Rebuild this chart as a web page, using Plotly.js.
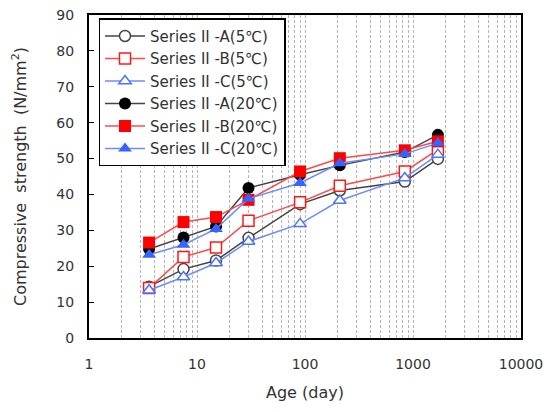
<!DOCTYPE html>
<html>
<head>
<meta charset="utf-8">
<script src="https://cdn.plot.ly/plotly-3.0.1.min.js"></script>
<style>html,body{margin:0;padding:0;background:#fff;}#chart{width:553px;height:412px;}</style>
</head>
<body>
<div id="chart"></div>
<script>
const ageDays = [3.6, 7.5, 15, 30, 90, 210, 840, 1700];
const seriesNames = ["Series II -A(5℃)", "Series II -B(5℃)", "Series II -C(5℃)", "Series II -A(20℃)", "Series II -B(20℃)", "Series II -C(20℃)"];
const a5  = [14.3, 19.2, 21.6, 27.9, 37.3, 41.1, 43.6, 49.9];
const b5  = [13.9, 22.6, 25.2, 32.7, 37.8, 42.4, 46.4, 52.5];
const c5  = [13.3, 17.0, 20.9, 26.9, 31.8, 38.3, 44.6, 51.1];
const a20 = [24.8, 28.0, 31.1, 41.8, 45.5, 48.1, 51.8, 56.6];
const b20 = [26.6, 32.3, 33.7, 38.5, 46.4, 50.1, 52.3, 54.8];
const c20 = [23.2, 26.0, 30.4, 38.8, 43.2, 48.7, 51.3, 54.3];
const xTickVals = [1,2,3,4,5,6,7,8,9,10,20,30,40,50,60,70,80,90,100,200,300,400,500,600,700,800,900,1000,2000,3000,4000,5000,6000,7000,8000,9000,10000];
const xTickText = xTickVals.map(v => [1,10,100,1000,10000].includes(v) ? String(v) : "");
const yTickVals = [0,10,20,30,40,50,60,70,80,90];

const FONT = '"DejaVu Sans", "Noto Sans CJK KR", sans-serif';
const styles = [
  {line:'#444444', mk:{symbol:'circle-open', color:'#444444'}},
  {line:'#ff4a4a', mk:{symbol:'square-open', color:'#ff1a1a'}},
  {line:'#6b8dff', mk:{symbol:'triangle-up-open', color:'#4a74ff'}},
  {line:'#444444', mk:{symbol:'circle', color:'#000000'}},
  {line:'#ff4a4a', mk:{symbol:'square', color:'#ff0000'}},
  {line:'#6b8dff', mk:{symbol:'triangle-up', color:'#3366ff'}}
];
const vals = [a5, b5, c5, a20, b20, c20];
const traces = vals.map((y, i) => {
  const s = styles[i];
  const open = s.mk.symbol.indexOf('open') >= 0;
  return {
    x: ageDays, y: y, name: seriesNames[i], type: 'scatter', mode: 'lines+markers',
    line: {color: s.line, width: 1.5},
    marker: open
      ? {symbol: s.mk.symbol.replace('-open',''), size: 11, color: '#ffffff', line: {color: s.mk.color, width: 1.5}}
      : {symbol: s.mk.symbol, size: 12, color: s.mk.color, line: {width: 0}}
  };
});

const layout = {
  width: 553, height: 412,
  margin: {l: 89, r: 32, t: 15, b: 74},
  paper_bgcolor: '#ffffff', plot_bgcolor: '#ffffff',
  font: {family: FONT, size: 14, color: '#222222'},
  showlegend: true,
  legend: {x: 0.022, y: 0.99, xanchor: 'left', yanchor: 'top', bgcolor: '#ffffff',
           bordercolor: '#000000', borderwidth: 1.5, font: {family: FONT, size: 15, color: '#333333'},
           tracegroupgap: 0, itemwidth: 40},
  xaxis: {type: 'log', range: [0, 4], tickvals: xTickVals, ticktext: xTickText, ticks: '',
          showgrid: true, gridcolor: '#b4b4b4', griddash: '3px,2px', gridwidth: 1,
          showline: true, linecolor: '#000000', linewidth: 2, mirror: true, zeroline: false,
          ticklabelstandoff: 12,
          tickfont: {family: FONT, size: 14, color: '#333333'},
          title: {text: 'Age (day)', font: {family: FONT, size: 16, color: '#333333'}, standoff: 16}},
  yaxis: {range: [0, 90], tickvals: yTickVals, ticks: 'inside', ticklen: 5, tickcolor: '#000000',
          showgrid: false, showline: true, linecolor: '#000000', linewidth: 2, mirror: true, zeroline: false,
          ticklabelstandoff: 10,
          tickfont: {family: FONT, size: 14, color: '#333333'},
          title: {text: 'Compressive  strength  (N/mm<sup>2</sup>)', font: {family: FONT, size: 16, color: '#333333'}, standoff: 26}}
};
Plotly.newPlot('chart', traces, layout, {displayModeBar: false, staticPlot: true});
</script>
</body>
</html>
